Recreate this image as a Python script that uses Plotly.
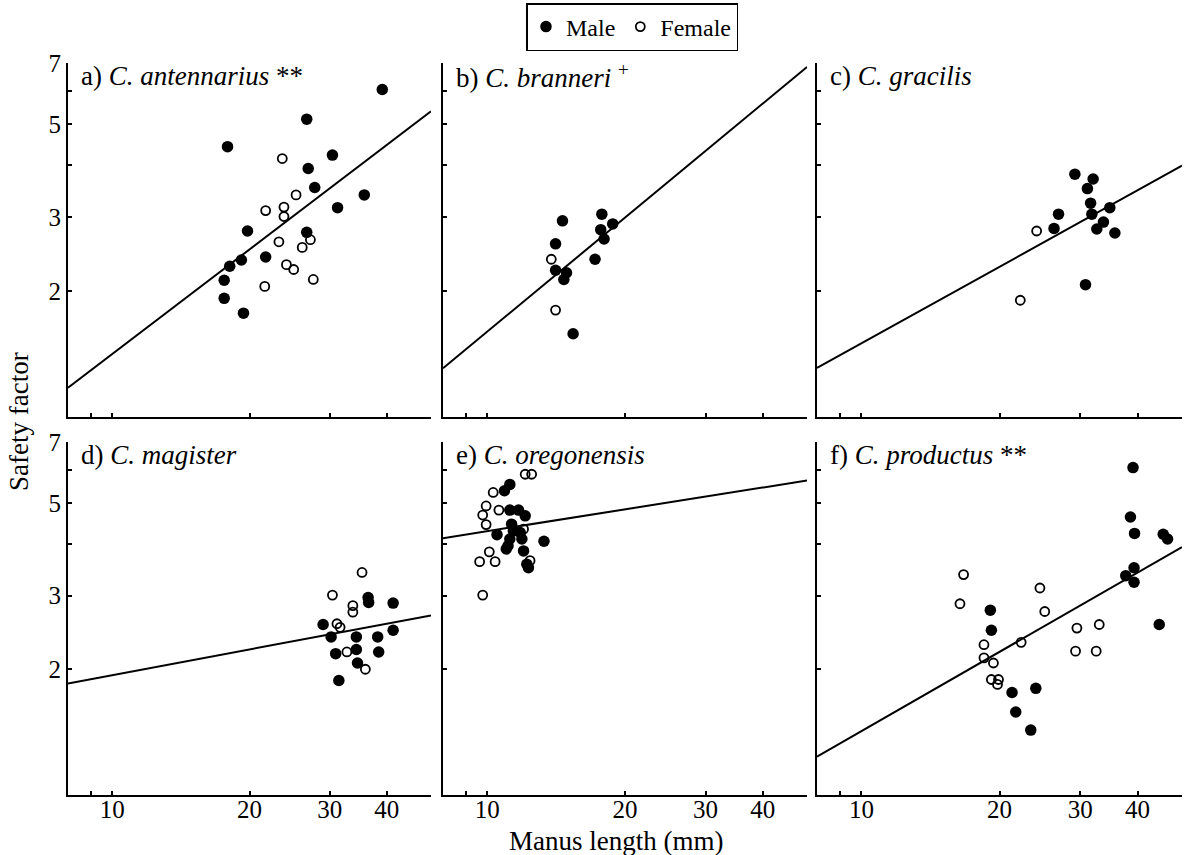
import math
import plotly.graph_objects as go

# ---------------- data ----------------
# a) C. antennarius
a_male_x = [39.1, 26.7, 17.9, 30.4, 26.9, 27.8, 35.7, 31.2, 19.8, 26.7, 19.2, 21.7, 18.1, 17.6, 17.6, 19.4]
a_male_y = [6.05, 5.14, 4.42, 4.22, 3.92, 3.53, 3.39, 3.16, 2.78, 2.76, 2.37, 2.41, 2.29, 2.12, 1.92, 1.77]
a_female_x = [23.6, 25.3, 23.8, 21.7, 23.8, 23.2, 27.2, 26.1, 24.1, 25.0, 27.6, 21.6]
a_female_y = [4.14, 3.39, 3.17, 3.11, 3.01, 2.62, 2.65, 2.54, 2.31, 2.25, 2.13, 2.05]
a_fit_x = [8, 50]
a_fit_y = [1.175, 5.37]

# b) C. branneri
b_male_x = [14.6, 17.8, 18.8, 17.7, 18.0, 14.1, 17.2, 14.1, 14.9, 14.7, 15.4]
b_male_y = [2.94, 3.05, 2.89, 2.80, 2.66, 2.59, 2.38, 2.24, 2.21, 2.13, 1.58]
b_female_x = [13.8, 14.1]
b_female_y = [2.38, 1.80]
b_fit_x = [8, 50]
b_fit_y = [1.307, 6.85]

# c) C. gracilis
c_male_x = [29.2, 32.0, 31.1, 31.6, 34.8, 26.9, 31.8, 33.7, 26.3, 32.6, 35.7, 30.8]
c_male_y = [3.80, 3.70, 3.51, 3.24, 3.16, 3.05, 3.05, 2.92, 2.82, 2.81, 2.75, 2.07]
c_female_x = [24.1, 22.2]
c_female_y = [2.78, 1.90]
c_fit_x = [8, 50]
c_fit_y = [1.31, 3.98]

# d) C. magister
d_male_x = [29.0, 30.2, 34.3, 38.2, 36.4, 36.5, 41.3, 41.3, 30.9, 34.3, 38.4, 34.5, 31.4]
d_male_y = [2.56, 2.39, 2.39, 2.39, 2.97, 2.89, 2.88, 2.48, 2.18, 2.23, 2.20, 2.07, 1.88]
d_female_x = [35.3, 30.4, 33.7, 33.7, 31.1, 31.6, 32.7, 35.9]
d_female_y = [3.41, 3.01, 2.84, 2.74, 2.57, 2.52, 2.20, 2.00]
d_fit_x = [8, 50]
d_fit_y = [1.85, 2.69]

# e) C. oregonensis
e_male_x = [11.2, 10.9, 11.2, 11.7, 12.1, 11.3, 11.4, 10.5, 11.8, 11.2, 11.9, 11.1, 11.0, 12.0, 13.3, 12.2, 12.3]
e_male_y = [5.54, 5.35, 4.81, 4.81, 4.66, 4.45, 4.29, 4.20, 4.25, 4.10, 4.10, 3.95, 3.88, 3.84, 4.05, 3.57, 3.50]
e_female_x = [12.1, 12.5, 10.3, 10.6, 9.94, 9.77, 9.94, 12.0, 10.1, 9.62, 10.4, 12.4, 9.77]
e_female_y = [5.86, 5.86, 5.30, 4.81, 4.92, 4.68, 4.44, 4.33, 3.82, 3.62, 3.62, 3.64, 3.01]
e_fit_x = [8, 50]
e_fit_y = [4.12, 5.66]

# f) C. productus
f_male_x = [39.1, 38.6, 39.4, 45.5, 46.5, 39.3, 37.7, 39.3, 44.6, 19.1, 19.2, 21.3, 24.0, 21.7, 23.4]
f_male_y = [6.08, 4.63, 4.23, 4.21, 4.10, 3.50, 3.35, 3.23, 2.56, 2.77, 2.48, 1.76, 1.80, 1.58, 1.43]
f_female_x = [16.7, 16.4, 24.5, 25.1, 22.3, 18.5, 18.5, 19.4, 19.2, 19.9, 19.8, 29.5, 33.0, 29.3, 32.5]
f_female_y = [3.37, 2.87, 3.13, 2.75, 2.32, 2.29, 2.13, 2.07, 1.89, 1.89, 1.84, 2.51, 2.56, 2.21, 2.21]
f_fit_x = [8, 50]
f_fit_y = [1.236, 3.92]

panel_labels = ["a) <i>C. antennarius</i> **", "b) <i>C. branneri</i> <sup>+</sup>",
                "c) <i>C. gracilis</i>", "d) <i>C. magister</i>",
                "e) <i>C. oregonensis</i>", "f) <i>C. productus</i> **"]

x_major_vals = [10, 20, 30, 40]
x_major_text = ["10", "20", "30", "40"]
x_minor_vals = [9, 50]
y_major_vals = [2, 3, 5, 7]
y_major_text = ["2", "3", "5", "7"]
y_minor_vals = [4, 6]
x_range = [8, 50]
y_range = [1, 7]

legend_names = ["Male", "Female"]

# ---------------- layout geometry ----------------
W, H = 1186, 855
col_px = [(68, 431), (443, 807), (817, 1182)]
row_px = [(63, 417), (442, 795)]
FONT = "Liberation Serif, Times New Roman, Times, serif"

panels = [
    (a_male_x, a_male_y, a_female_x, a_female_y, a_fit_x, a_fit_y),
    (b_male_x, b_male_y, b_female_x, b_female_y, b_fit_x, b_fit_y),
    (c_male_x, c_male_y, c_female_x, c_female_y, c_fit_x, c_fit_y),
    (d_male_x, d_male_y, d_female_x, d_female_y, d_fit_x, d_fit_y),
    (e_male_x, e_male_y, e_female_x, e_female_y, e_fit_x, e_fit_y),
    (f_male_x, f_male_y, f_female_x, f_female_y, f_fit_x, f_fit_y),
]

fig = go.Figure()
annotations = []
tick_style = dict(ticks="inside", ticklen=4, tickwidth=1.5, tickcolor="black")
for i, (mx, my, fx, fy, lx, ly) in enumerate(panels):
    n = i + 1
    r, c = divmod(i, 3)
    xa = "x" if n == 1 else f"x{n}"
    ya = "y" if n == 1 else f"y{n}"
    fig.add_trace(go.Scatter(x=lx, y=ly, mode="lines", line=dict(color="black", width=2),
                             xaxis=xa, yaxis=ya, showlegend=False, hoverinfo="skip"))
    fig.add_trace(go.Scatter(x=mx, y=my, mode="markers", name=legend_names[0],
                             marker=dict(symbol="circle", size=11.5, color="black", line=dict(width=0)),
                             xaxis=xa, yaxis=ya, showlegend=(n == 1), legendgroup="m"))
    fig.add_trace(go.Scatter(x=fx, y=fy, mode="markers", name=legend_names[1],
                             marker=dict(symbol="circle-open", size=9, color="black", line=dict(width=1.8)),
                             xaxis=xa, yaxis=ya, showlegend=(n == 1), legendgroup="f"))

    x0, x1 = col_px[c]
    y0, y1 = row_px[r]
    xdom = [x0 / W, x1 / W]
    ydom = [1 - y1 / H, 1 - y0 / H]
    xkey = "xaxis" if n == 1 else f"xaxis{n}"
    ykey = "yaxis" if n == 1 else f"yaxis{n}"
    fig.layout[xkey] = dict(
        domain=xdom, anchor=ya, type="log",
        range=[math.log10(x_range[0]), math.log10(x_range[1])],
        tickmode="array", tickvals=x_major_vals, ticktext=x_major_text,
        showticklabels=(r == 1), ticklabelstandoff=-9,
        minor=dict(tickmode="array", tickvals=x_minor_vals, **tick_style),
        showline=True, linecolor="black", linewidth=2,
        showgrid=False, zeroline=False, automargin=False,
        tickfont=dict(family=FONT, size=25, color="black"),
        **tick_style,
    )
    fig.layout[ykey] = dict(
        domain=ydom, anchor=xa, type="log",
        range=[math.log10(y_range[0]), math.log10(y_range[1])],
        tickmode="array", tickvals=y_major_vals, ticktext=y_major_text,
        showticklabels=(c == 0),
        minor=dict(tickmode="array", tickvals=y_minor_vals, **tick_style),
        showline=True, linecolor="black", linewidth=2,
        showgrid=False, zeroline=False, automargin=False,
        tickfont=dict(family=FONT, size=25, color="black"),
        **tick_style,
    )
    annotations.append(dict(
        text=panel_labels[i], xref="paper", yref="paper",
        x=(x0 + 11) / W, y=1 - (y0 + 13) / H, xanchor="left", yanchor="middle",
        showarrow=False, font=dict(family=FONT, size=27, color="black"),
    ))

annotations.append(dict(text="Manus length (mm)", xref="paper", yref="paper",
                        x=616 / W, y=1 - 841 / H, xanchor="center", yanchor="middle",
                        showarrow=False, font=dict(family=FONT, size=27, color="black")))
annotations.append(dict(text="Safety factor", xref="paper", yref="paper",
                        x=19 / W, y=1 - 422 / H, xanchor="center", yanchor="middle", textangle=-90,
                        showarrow=False, font=dict(family=FONT, size=27, color="black")))

fig.update_layout(
    width=W, height=H,
    margin=dict(l=0, r=0, t=0, b=0),
    paper_bgcolor="white", plot_bgcolor="white",
    annotations=annotations,
    showlegend=True,
    legend=dict(orientation="h", x=632 / W, y=1 - 3 / H, xanchor="center", yanchor="top",
                bordercolor="black", borderwidth=1.5, bgcolor="white",
                font=dict(family=FONT, size=24, color="black"),
                itemwidth=30, tracegroupgap=0),
)

fig.write_html("out.html", config={"displayModeBar": False},
               post_script="document.body.style.margin='0px';document.body.style.overflow='hidden';")
